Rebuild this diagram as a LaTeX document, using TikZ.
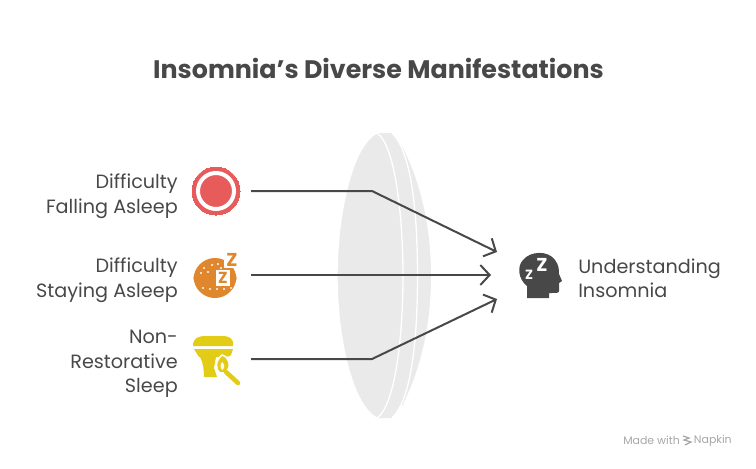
\documentclass[tikz,border=0pt]{standalone}
\usepackage{fontspec}
\setmainfont{Poppins}
\usetikzlibrary{arrows.meta}

\definecolor{inkgray}{HTML}{484848}
\definecolor{lensgray}{HTML}{EAEAEA}
\definecolor{iconred}{HTML}{E85B5B}
\definecolor{iconorange}{HTML}{E0862C}
\definecolor{iconyellow}{HTML}{E3CC16}

\tikzset{
	lbl/.style={text=inkgray,font=\fontsize{14.4}{18.4}\selectfont,inner sep=0pt},
	link/.style={draw=inkgray,line width=1.5pt,-{Straight Barb[length=7pt,width=15pt,line width=1.5pt]}},
	port/.style={inner sep=0pt,minimum size=0pt}
}

\begin{document}
\begin{tikzpicture}[x=0.75pt,y=-0.75pt]
	\useasboundingbox (0,0) rectangle (756,468);

	\node[lbl,font=\fontsize{19}{24}\selectfont\bfseries] (title) at (378.5,68) {Insomnia's Diverse Manifestations};

	% lens
	\fill[lensgray] (402,146) .. controls (422,185) and (431,230) .. (431,276)
		.. controls (431,322) and (422,367) .. (402,406) -- cycle;
	\fill[lensgray] (377,133) -- (392,133) .. controls (412,152) and (417.5,215) .. (417.5,276)
		.. controls (417.5,337) and (412,399) .. (392,418) -- (377,418) -- cycle;
	\draw[white,line width=1pt] (392,133) .. controls (412,152) and (417.5,215) .. (417.5,276)
		.. controls (417.5,337) and (412,399) .. (392,418);
	\draw[white,fill=lensgray,line width=1pt] (377,133) .. controls (395,145) and (403,215) .. (403,276)
		.. controls (403,337) and (395,406) .. (377,418)
		.. controls (352,406) and (337,337) .. (337,276)
		.. controls (337,215) and (352,145) .. (377,133) -- cycle;

	% red icon
	\node[circle,draw=iconred,fill=iconred,line width=0pt,minimum size=36pt,inner sep=0pt] (red) at (216,191) {};
	\draw[white,line width=3pt] (red.center) circle (18);

	% orange icon
	\fill[iconorange] (193.5,276.5) arc (180:0:21.5) -- cycle;
	\fill[iconorange] (193.5,279.5) arc (180:360:21.5) -- cycle;
	\node[port] (orange) at (215,278) {};
	\fill[white] (216,270) rectangle (230,286);
	\fill[white] (224,252) rectangle (240,268);
	\foreach \px/\py in {204/268,212/265,221/268,201/273,208/272,218/264,203/288,210/289,217/289,224/289,231/288}
		\fill[white] (\px,\py) circle (1.2);
	\node[text=iconorange,font=\fontsize{14}{14}\selectfont\bfseries,inner sep=0pt] (bigz) at (232,260) {Z};
	\node[text=iconorange,font=\fontsize{12}{12}\selectfont\bfseries,inner sep=0pt] (smallz) at (223,278) {Z};
	\fill[iconorange] (231,276) rectangle (234,280);

	% yellow icon
	\fill[iconyellow] (193,346) .. controls (193,338) and (198,336) .. (206,336) -- (222,336)
		.. controls (230,336) and (234,339) .. (233,346) -- cycle;
	\fill[iconyellow] (194,349) -- (233,349) -- (231,355) .. controls (230,357) and (222,357) .. (218,357) -- (199,357) -- cycle;
	\fill[iconyellow] (200,357) -- (216,357) -- (214,368) -- (217,377) -- (204,377) .. controls (204,370) and (203,362) .. (200,357) -- cycle;
	\node[port] (yellow) at (216,359) {};
	\draw[white,line width=6pt,line cap=round] (224,370) -- (238,383);
	\draw[white,fill=iconyellow,line width=1.2pt] (222,355) .. controls (216,360) and (214,368) .. (220,373)
		.. controls (226,375) and (231,368) .. (229,362) .. controls (228,359) and (226,356) .. (222,355) -- cycle;
	\fill[white] (222,362) .. controls (220,365) and (220,368) .. (222,370) .. controls (225,368) and (225,365) .. (222,362) -- cycle;
	\draw[iconyellow,line width=3.4pt,line cap=round] (226,372) -- (238,383);

	% head icon
	\fill[inkgray] (527,298) -- (527,286) .. controls (518,279) and (517,266) .. (523,260)
		.. controls (530,251) and (548,250) .. (555,260) .. controls (559,265) and (559,270) .. (559,274)
		-- (562,281) -- (559,283) -- (559,291) .. controls (559,293) and (557,293) .. (549,293) -- (549,298) -- cycle;
	\node[port] (head) at (539,275) {};
	\node[text=white,font=\fontsize{14}{14}\selectfont\bfseries,inner sep=0pt] (bz) at (542,265) {Z};
	\node[text=white,font=\fontsize{10}{10}\selectfont\bfseries,inner sep=0pt] (sz) at (529,274.5) {Z};

	% labels
	\node[lbl,anchor=east,align=right] (fall) at (178,196) {Difficulty\\Falling Asleep};
	\node[lbl,anchor=east,align=right] (stay) at (178,280) {Difficulty\\Staying Asleep};
	\node[lbl,anchor=east,align=right] (rest) at (178,364) {Non-\\Restorative\\Sleep};
	\node[lbl,anchor=west,align=left] (main) at (578,278.5) {Understanding\\Insomnia};

	% connectors
	\coordinate (a1) at (251,191);
	\coordinate (a2) at (372,191);
	\coordinate (a3) at (497,252);
	\coordinate (b1) at (251,275);
	\coordinate (b2) at (491,275);
	\coordinate (c1) at (251,359);
	\coordinate (c2) at (372,359);
	\coordinate (c3) at (497,299);
	\draw[link] (a1) -- (a2) -- (a3);
	\draw[link] (b1) -- (b2);
	\draw[link] (c1) -- (c2) -- (c3);

	% footer
	\node[text=black!35,font=\fontsize{8.2}{10}\selectfont,inner sep=0pt,anchor=west] (made) at (623,440.5) {Made with};
	\node[text=black!35,font=\fontsize{8.2}{10}\selectfont,inner sep=0pt,anchor=east] (napkin) at (732,440.5) {Napkin};
	\draw[black!35,line width=0.9pt] (683,436) -- (689,438) -- (684,440) -- (691,442) -- (685,445);
\end{tikzpicture}
\end{document}
